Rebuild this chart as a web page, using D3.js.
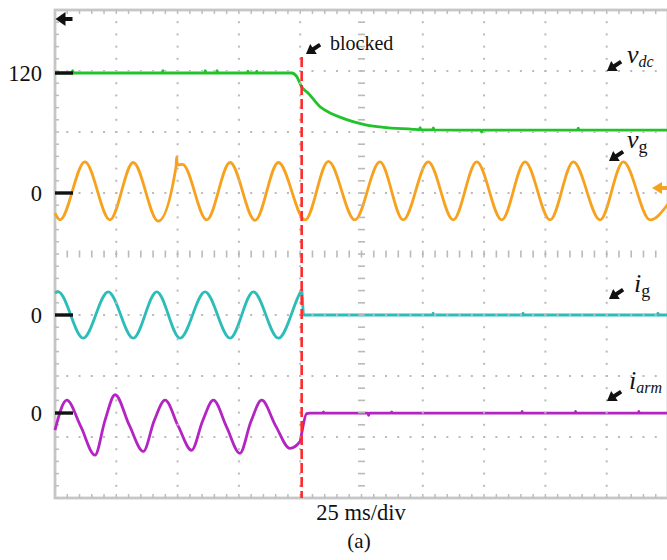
<!DOCTYPE html>
<html>
<head>
<meta charset="utf-8">
<script src="https://cdn.jsdelivr.net/npm/d3@7"></script>
<style>
  body { margin: 0; background: #fff; }
  svg { display: block; font-family: 'Liberation Serif', 'Times New Roman', serif; }
</style>
</head>
<body>
<div id="chart"></div>
<script>
// 10 div x 25 ms/div
const timeDomain = [0, 250]
const blockedAt = 100.6

// samples: [t (ms), value]
const vdc = [
  [0, 120], [6.9, 120], [7.2, 121.5], [7.5, 120], [43.7, 120], [44, 121.5], [44.3, 120],
  [61, 120], [61.3, 121.5], [61.6, 120], [65.8, 120], [66.1, 121.5], [66.4, 120],
  [78.4, 120], [78.7, 121.2], [79, 120], [82, 120], [82.3, 121.2], [82.6, 120],
  [96.5, 120], [98.6, 117.6], [100.6, 110.8], [103.2, 106.9], [108.1, 97.9], [112.2, 93.8],
  [116.2, 91.1], [121.5, 88.1], [127.1, 85.9], [133.8, 84.4], [146, 83.1],
  [148.6, 82.8], [148.9, 84.2], [149.2, 82.8], [154, 82.7], [154.3, 84], [154.6, 82.7],
  [173.7, 82.5], [174, 81.2], [174.3, 82.5], [213.1, 82.5], [213.4, 83.9], [213.7, 82.5],
  [250, 82.5]
]
const vg = [
  [0, -33], [2, -44], [12.2, 51], [22.4, -44], [31.9, 50], [42.1, -46],
  [49.4, 44], [49.6, 59], [49.9, 46], [52, 47], [61.9, -44], [71.4, 50], [81.6, -45],
  [91.1, 50], [102, -44], [111.5, 52], [122.3, -44], [132.5, 51], [142, -44],
  [152.2, 51], [162.4, -44], [172, 51], [182.2, -44], [191.7, 51], [201.9, -44],
  [211.4, 51], [222.3, -44], [231.8, 51], [242.7, -44], [250, -18]
]
const ig = [
  [0, 3.6], [1.3, 3.8], [11.5, -3.8], [21.7, 3.8], [31.9, -3.8], [41.5, 3.8], [51, -3.8],
  [61.2, 3.8], [71.4, -3.8], [80.9, 3.8], [91.1, -3.8], [99.9, 3.6], [100.6, 4.1],
  [101.4, 0], [154, 0], [154.2, 0.3], [154.4, 0], [190.7, 0], [190.9, 0.3], [191.1, 0],
  [245.7, 0], [245.9, 0.3], [246.1, 0], [250, 0]
]
const iarm = [
  [0, -2.8], [4.8, 2.1], [10.5, -2.2], [16.3, -6.9], [20.4, -1.2], [24.5, 3.0],
  [30.3, -2.0], [36, -6.3], [40.5, -1.2], [44.9, 2.1], [50.3, -2.2], [55.7, -6.1],
  [60.2, -1.3], [64.6, 2.1], [70, -2.3], [75.4, -6.6], [79.9, -1.4], [84.3, 2.1],
  [90, -2.1], [95.8, -5.8], [99.9, -4.7], [100.6, -3.3], [102.6, -0.1], [104, 0],
  [109.3, 0], [109.5, 0.2], [109.7, 0], [127.6, 0], [127.9, -0.4], [128.2, 0],
  [137.1, 0], [137.3, 0.2], [137.5, 0], [190.3, 0], [190.5, 0.25], [190.7, 0],
  [212.1, 0], [212.3, 0.25], [212.5, 0], [237.9, 0], [238.1, 0.25], [238.3, 0], [250, 0]
]

// reference marker level and its tick label, per channel
const markLevels = [120, 0, 0, 0]
const markLabels = ['120', '0', '0', '0']

// channel setup: units per division and zero offset (in divisions from centre)
const channels = [
  { data: vdc, perDiv: 40, offset: -0.033, color: '#22c32a' },
  { data: vg, perDiv: 100, offset: 1, color: '#f7a21e' },
  { data: ig, perDiv: 10, offset: -1, color: '#2dbdb9' },
  { data: iarm, perDiv: 10, offset: -2.607, color: '#b424c3' }
]

const W = 667
const H = 560
const margin = { top: 10, left: 55, right: -1, bottom: 62 }
const width = W - margin.left - margin.right
const height = H - margin.top - margin.bottom

const svg = d3
  .select('#chart')
  .append('svg')
  .attr('width', W)
  .attr('height', H)

const xScale = d3.scaleLinear().domain(timeDomain).range([margin.left, margin.left + width])
const yDiv = d3.scaleLinear().domain([-4, 4]).range([margin.top + height, margin.top])

const divX = width / 10
const divY = height / 8

// border
const gridColor = '#c6c6c6'
svg
  .append('rect')
  .attr('x', margin.left)
  .attr('y', margin.top)
  .attr('width', width)
  .attr('height', height)
  .attr('fill', 'none')
  .attr('stroke', gridColor)
  .attr('stroke-width', 2.8)

// minor ticks on the border
const minorX = d3.range(1, 50).map(i => margin.left + (i * divX) / 5)
const minorY = d3.range(1, 40).map(i => margin.top + (i * divY) / 5)
const ticks = svg.append('g').attr('stroke', '#bdbdbd').attr('stroke-width', 1.5)
minorX.forEach(x => {
  ticks.append('line').attr('x1', x).attr('x2', x).attr('y1', margin.top).attr('y2', margin.top + 4)
  ticks.append('line').attr('x1', x).attr('x2', x).attr('y1', margin.top + height - 4).attr('y2', margin.top + height)
})
minorY.forEach(y => {
  ticks.append('line').attr('x1', margin.left).attr('x2', margin.left + 4).attr('y1', y).attr('y2', y)
})

// traces
channels.forEach(ch => {
  const line = d3
    .line()
    .x(d => xScale(d[0]))
    .y(d => yDiv(ch.offset + d[1] / ch.perDiv))
    .curve(d3.curveMonotoneX)
  svg
    .append('path')
    .datum(ch.data)
    .attr('d', line)
    .attr('fill', 'none')
    .attr('stroke', ch.color)
    .attr('stroke-width', 2.8)
    .attr('stroke-linejoin', 'round')
})

// dotted graticule drawn over the traces, like the scope does
const dots = svg.append('g').attr('fill', '#bababa')
d3.range(1, 10).forEach(k => {
  const x = margin.left + k * divX
  if (k === 5) {
    minorY.forEach(y => {
      dots.append('rect').attr('x', x - 3.5).attr('y', y - 0.8).attr('width', 7).attr('height', 1.6)
    })
  } else {
    minorY.forEach(y => {
      dots.append('rect').attr('x', x - 1).attr('y', y - 1).attr('width', 2).attr('height', 2)
    })
  }
})
d3.range(1, 8).forEach(k => {
  const y = margin.top + k * divY
  if (k === 4) {
    minorX.forEach(x => {
      dots.append('rect').attr('x', x - 0.8).attr('y', y - 3.5).attr('width', 1.6).attr('height', 7)
    })
  } else {
    minorX.forEach(x => {
      dots.append('rect').attr('x', x - 1).attr('y', y - 1).attr('width', 2).attr('height', 2)
    })
  }
})

// blocking instant
svg
  .append('line')
  .attr('x1', xScale(blockedAt))
  .attr('x2', xScale(blockedAt))
  .attr('y1', 57)
  .attr('y2', margin.top + height)
  .attr('stroke', '#ff2b2b')
  .attr('stroke-width', 2.6)
  .attr('stroke-dasharray', '10,4')

// channel markers and labels
channels.forEach((ch, i) => {
  const y = yDiv(ch.offset + markLevels[i] / ch.perDiv)
  svg
    .append('line')
    .attr('x1', margin.left)
    .attr('x2', margin.left + 18)
    .attr('y1', y)
    .attr('y2', y)
    .attr('stroke', '#111')
    .attr('stroke-width', 3.4)
  svg
    .append('text')
    .attr('x', 42)
    .attr('y', y + 7.5)
    .attr('text-anchor', 'end')
    .attr('font-size', 22.5)
    .attr('fill', '#111')
    .text(markLabels[i])
})

function arrow(hx, hy, dx, dy, len, headLen, headW, color) {
  const n = Math.sqrt(dx * dx + dy * dy)
  const ux = dx / n
  const uy = dy / n
  const px = -uy
  const py = ux
  svg
    .append('line')
    .attr('x1', hx - ux * len)
    .attr('y1', hy - uy * len)
    .attr('x2', hx - ux * headLen * 0.5)
    .attr('y2', hy - uy * headLen * 0.5)
    .attr('stroke', color)
    .attr('stroke-width', 4)
  const bx = hx - ux * headLen
  const by = hy - uy * headLen
  svg
    .append('path')
    .attr(
      'd',
      'M' + hx + ',' + hy +
        'L' + (bx + (px * headW) / 2) + ',' + (by + (py * headW) / 2) +
        'L' + (bx - (px * headW) / 2) + ',' + (by - (py * headW) / 2) + 'Z'
    )
    .attr('fill', color)
}

// trigger position and level markers
arrow(55.5, 19, -1, 0, 17, 10, 14, '#111')
arrow(652, 188, -1, 0, 16, 10, 12, '#f7a21e')

// annotations
arrow(306, 54, -1.5, 1, 17, 9, 12, '#111')
svg.append('text').attr('x', 330).attr('y', 50).attr('font-size', 20).attr('fill', '#111').text('blocked')

arrow(607, 71, -1.5, 1, 17, 9, 12, '#111')
const tvdc = svg.append('text').attr('x', 627).attr('y', 63).attr('font-size', 26).attr('font-style', 'italic').attr('fill', '#111')
tvdc.append('tspan').text('v')
tvdc.append('tspan').attr('font-size', 16).attr('dy', 4).text('dc')

arrow(609, 161, -1.5, 1, 17, 9, 12, '#111')
const tvg = svg.append('text').attr('x', 627).attr('y', 148).attr('font-size', 26).attr('font-style', 'italic').attr('fill', '#111')
tvg.append('tspan').text('v')
tvg.append('tspan').attr('font-size', 18).attr('dy', 5).attr('font-style', 'normal').text('g')

arrow(609, 299, -1.5, 1, 17, 9, 12, '#111')
const tig = svg.append('text').attr('x', 634).attr('y', 292).attr('font-size', 26).attr('font-style', 'italic').attr('fill', '#111')
tig.append('tspan').text('i')
tig.append('tspan').attr('font-size', 18).attr('dy', 5).attr('font-style', 'normal').text('g')

arrow(607, 401, -1.5, 1, 17, 9, 12, '#111')
const tiarm = svg.append('text').attr('x', 629).attr('y', 389).attr('font-size', 26).attr('font-style', 'italic').attr('fill', '#111')
tiarm.append('tspan').text('i')
tiarm.append('tspan').attr('font-size', 16).attr('dy', 4).text('arm')

svg
  .append('text')
  .attr('x', 361)
  .attr('y', 520)
  .attr('text-anchor', 'middle')
  .attr('font-size', 22.5)
  .attr('fill', '#111')
  .text('25 ms/div')
svg
  .append('text')
  .attr('x', 359)
  .attr('y', 548)
  .attr('text-anchor', 'middle')
  .attr('font-size', 21)
  .attr('fill', '#111')
  .text('(a)')
</script>
</body>
</html>
